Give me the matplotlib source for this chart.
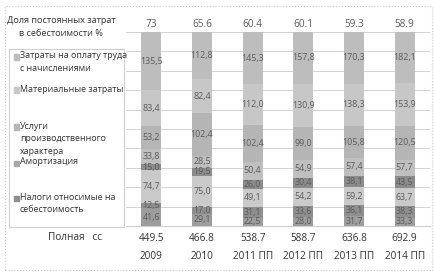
import matplotlib

matplotlib.use("Agg")
import matplotlib.pyplot as plt
import numpy as np
from matplotlib.patches import Rectangle

plt.rcParams["font.family"] = ["Open Sans", "DejaVu Sans"]

years = ["2009", "2010", "2011 ПП", "2012 ПП", "2013 ПП", "2014 ПП"]
totals = [449.5, 466.8, 538.7, 588.7, 636.8, 692.9]
fixed_share = ["73", "65.6", "60.4", "60.1", "59.3", "58.9"]

# stacked segments, bottom to top
seg1 = [41.6, 29.1, 22.5, 28.0, 31.7, 33.3]
seg2 = [12.5, 17.0, 31.1, 33.6, 36.1, 38.3]
seg3 = [74.7, 75.0, 49.1, 54.2, 59.2, 63.7]
seg4 = [15.0, 19.5, 26.0, 30.4, 38.1, 43.5]
seg5 = [33.8, 28.5, 50.4, 54.9, 57.4, 57.7]
seg6 = [53.2, 102.4, 102.4, 99.0, 105.8, 120.5]
seg7 = [83.4, 82.4, 112.0, 130.9, 138.3, 153.9]
seg8 = [135.5, 112.8, 145.3, 157.8, 170.3, 182.1]
segments = [seg1, seg2, seg3, seg4, seg5, seg6, seg7, seg8]
seg_colors = ["#9d9d9d", "#8e8e8e", "#cacaca", "#8b8b8b",
              "#bfbfbf", "#b5b5b5", "#c7c7c7", "#bdbdbd"]

legend_labels = ["Затраты на оплату труда\nс начислениями",
                 "Материальные затраты",
                 "Услуги\nпроизводственного\nхарактера",
                 "Амортизация",
                 "Налоги относимые на\nсебестоимость"]
legend_colors = ["#bdbdbd", "#c7c7c7", "#b5b5b5", "#a8a8a8", "#8e8e8e"]

W, H = 434, 272
fig = plt.figure(figsize=(W / 100, H / 100), dpi=100)
ax = fig.add_axes([126 / W, 1 - 226 / H, 304 / W, 194 / H])

vals = np.array(segments)
shares = vals / vals.sum(axis=0) * 100
x = np.arange(len(years))
bottom = np.zeros(len(years))
for i, share in enumerate(shares):
    ax.bar(x, share, width=0.4, bottom=bottom, color=seg_colors[i],
           edgecolor="none", zorder=2)
    for j in range(len(years)):
        ax.text(x[j], bottom[j] + share[j] / 2, f"{vals[i, j]:.1f}".replace(".", ","),
                ha="center", va="center", fontsize=6.4, color="#5c5c5c", zorder=3)
    bottom += share

ax.set_xlim(-0.5, len(years) - 0.5)
ax.set_ylim(0, 100)
ax.set_yticks(np.arange(10, 101, 10))
ax.yaxis.grid(True, color="#d4d4d4", linewidth=0.7, zorder=0)
ax.tick_params(left=False, labelleft=False, bottom=False, labelbottom=False)
for s in ["left", "right", "top"]:
    ax.spines[s].set_visible(False)
ax.spines["bottom"].set_color("#cfcfcf")

for j in range(len(years)):
    ax.text(x[j], 101, fixed_share[j], ha="center", va="bottom",
            fontsize=7.2, color="#5c5c5c")
    ax.text(x[j], -3.5, f"{totals[j]:.1f}", ha="center", va="top",
            fontsize=7.2, color="#333333")
    ax.text(x[j], -13, years[j], ha="center", va="top",
            fontsize=7.2, color="#333333")

fig.text(61 / W, 1 - 27 / H, "Доля постоянных затрат\nв себестоимости %",
         ha="center", va="center", fontsize=6.6, color="#333333", linespacing=1.6)
fig.text(48 / W, 1 - 237 / H, "Полная   сс", ha="left", va="center",
         fontsize=7.2, color="#333333")

# legend box
fig.patches.append(Rectangle((9 / W, 1 - 227 / H), 115 / W, 178 / H,
                             transform=fig.transFigure, fill=False,
                             edgecolor="#cfcfcf", linewidth=0.8))
leg_y = [57, 90, 127, 163, 198]
for lab, col, yy in zip(legend_labels, legend_colors, leg_y):
    fig.patches.append(Rectangle((14 / W, 1 - (yy + 2.5) / H), 5 / W, 5 / H,
                                 transform=fig.transFigure, color=col))
    fig.text(20 / W, 1 - (yy - 5.5) / H, lab, ha="left", va="top",
             fontsize=6.4, color="#333333", linespacing=1.55)

# outer chart border
fig.patches.append(Rectangle((5 / W, 2 / H), 427 / W, 264 / H,
                             transform=fig.transFigure, fill=False,
                             edgecolor="#c8c8c8", linewidth=0.8, linestyle=":"))

fig.savefig("out.png", dpi=100)
